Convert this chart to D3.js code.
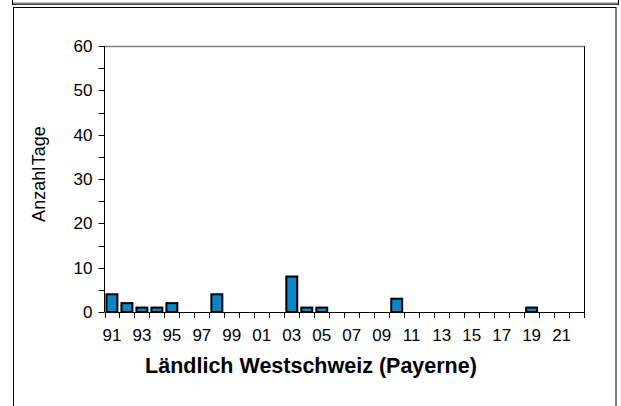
<!DOCTYPE html>
<html><head><meta charset="utf-8">
<script src="https://cdn.jsdelivr.net/npm/d3@7"></script>
<style>body{margin:0;background:#fff}svg{display:block}text{font-family:Arial,"Liberation Sans",sans-serif}</style>
</head><body><svg id="c" width="621" height="406"></svg>
<script>
const years = d3.range(1991, 2023);
const yearLabels = years.map(y => String(y % 100).padStart(2, "0"));
const values = [4,2,1,1,2,0,0,4,0,0,0,0,8,1,1,0,0,0,0,3,0,0,0,0,0,0,0,0,1,0,0,0];
const yTicks = [0,10,20,30,40,50,60];
const yMinor = [5,15,25,35,45,55];
const title = "Ländlich Westschweiz (Payerne)";
const yTitle = "Anzahl Tage";

const svg = d3.select("#c");
// frames
svg.append("rect").attr("x",12.5).attr("y",-10).attr("width",606).attr("height",14.5).attr("fill","none").attr("stroke","#000");
svg.append("line").attr("x1",13).attr("x2",618).attr("y1",3.5).attr("y2",3.5).attr("stroke","#808080").attr("stroke-width",2);
svg.append("rect").attr("x",13.5).attr("y",7.5).attr("width",602.5).attr("height",420).attr("fill","none").attr("stroke","#000");

const L=104.5, R=584, T=46, B=312;
const x = d3.scaleBand().domain(yearLabels).range([L,R]).paddingInner(0.27).paddingOuter(0.13);
const y = d3.scaleLinear().domain([0,60]).range([B,T]);

// plot border top & right
svg.append("line").attr("x1",L).attr("x2",R).attr("y1",T+0.5).attr("y2",T+0.5).attr("stroke","#808080").attr("stroke-width",1.5);
svg.append("line").attr("x1",R+0.5).attr("x2",R+0.5).attr("y1",T).attr("y2",B).attr("stroke","#000");

// bars
svg.append("g").selectAll("rect").data(values.map((v,i)=>({k:yearLabels[i],v})).filter(d=>d.v>0))
  .join("rect")
  .attr("x",d=>x(d.k)).attr("width",x.bandwidth())
  .attr("y",d=>y(d.v)).attr("height",d=>y(0)-y(d.v))
  .attr("fill","#0A85C8").attr("stroke","#000").attr("stroke-width",2);

// y axis
const ya = svg.append("g").attr("transform",`translate(${L},0)`);
ya.append("line").attr("x1",0).attr("x2",0).attr("y1",T).attr("y2",B).attr("stroke","#000");
ya.selectAll("line.t").data(yTicks.concat(yMinor)).join("line").attr("class","t")
  .attr("x1",-6).attr("x2",0).attr("y1",d=>Math.round(y(d))+0.5).attr("y2",d=>Math.round(y(d))+0.5).attr("stroke","#000");
ya.selectAll("text").data(yTicks).join("text")
  .attr("x",-12).attr("y",d=>y(d)).attr("dy","0.36em").attr("text-anchor","end")
  .attr("font-size",17).text(d=>d);

// x axis
const xa = svg.append("g");
xa.append("line").attr("x1",L).attr("x2",R).attr("y1",B+0.5).attr("y2",B+0.5).attr("stroke","#000");
const bounds = d3.range(years.length+1).map(i => L + (R-L)*i/years.length);
xa.selectAll("line.t").data(bounds).join("line").attr("class","t")
  .attr("x1",d=>Math.round(d)+0.5).attr("x2",d=>Math.round(d)+0.5).attr("y1",B).attr("y2",B+6).attr("stroke","#000");
xa.selectAll("text").data(yearLabels.filter((d,i)=>i%2===0)).join("text")
  .attr("x",d=>x(d)+x.bandwidth()/2).attr("y",B+29).attr("text-anchor","middle")
  .attr("font-size",17).text(d=>d);

// titles
svg.append("text").attr("transform",`translate(45,174) rotate(-90)`).attr("text-anchor","middle")
  .attr("font-size",18).attr("word-spacing","-3px").text(yTitle);
svg.append("text").attr("x",311).attr("y",373).attr("text-anchor","middle")
  .attr("font-size",21.5).attr("font-weight","bold").text(title);
</script></body></html>
